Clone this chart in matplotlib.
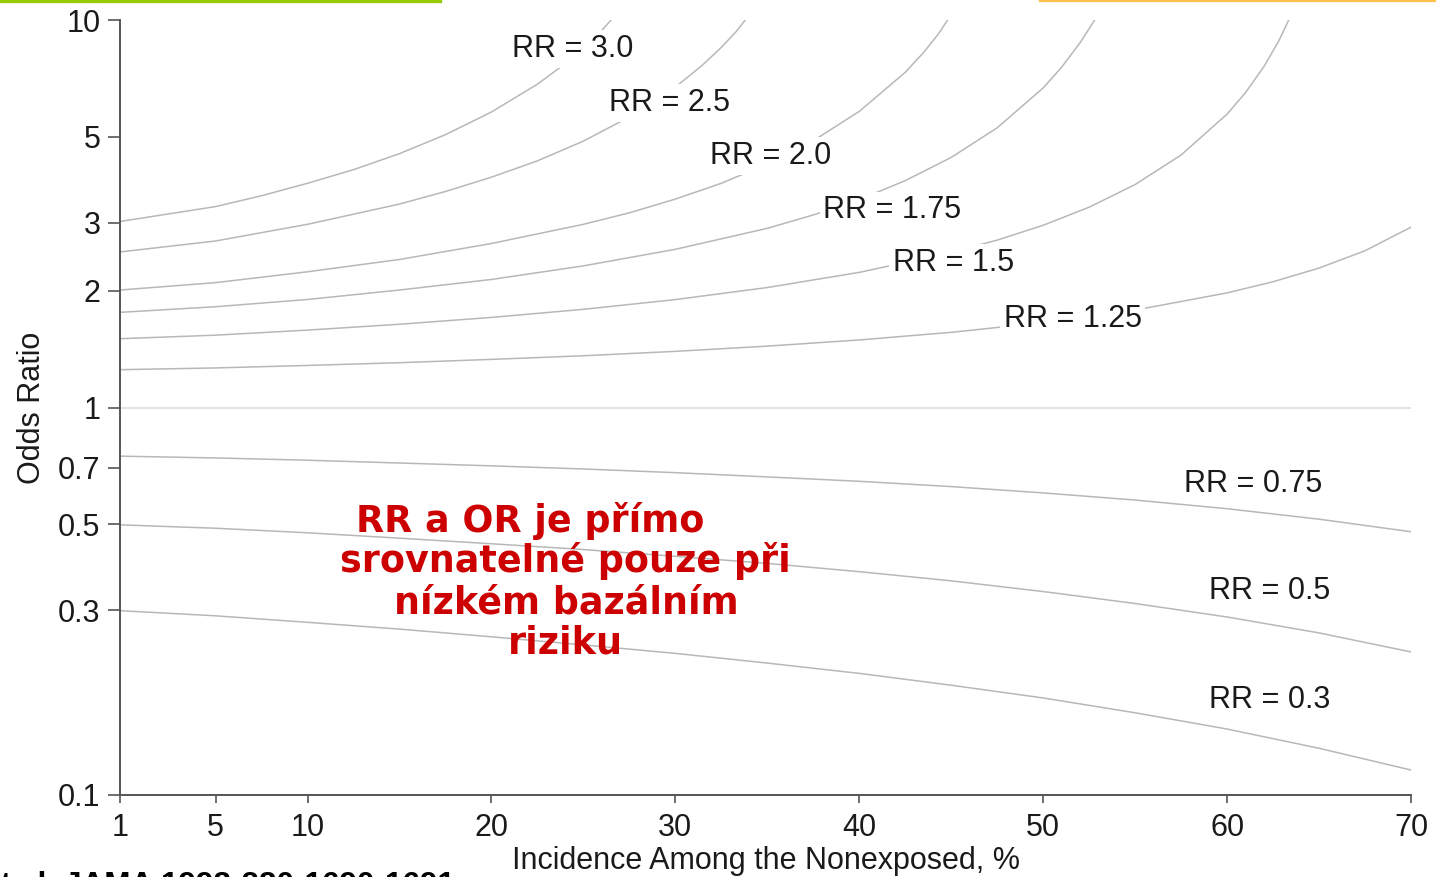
import numpy as np
import matplotlib.pyplot as plt
from matplotlib.lines import Line2D

plt.rcParams['font.family'] = ['Liberation Sans', 'DejaVu Sans']
plt.rcParams['font.size'] = 22

# odds ratio read along each RR curve vs. incidence among the nonexposed (%)
inc_grid = [1, 5, 10, 15, 20, 25, 30, 35, 40, 45, 50, 55, 60, 65, 70]

inc_rr30 = [1, 5, 7.5, 10, 12.5, 15, 17.5, 20, 22.5, 24, 25, 26, 26.5]
or_rr30 = [3.02, 3.30, 3.52, 3.79, 4.11, 4.52, 5.06, 5.79, 6.83, 7.71, 8.46, 9.40, 10.0]

inc_rr25 = [1, 5, 10, 15, 17.5, 20, 22.5, 25, 27.5, 30, 31.5, 32.5, 33.3, 33.8]
or_rr25 = [2.52, 2.69, 2.97, 3.35, 3.61, 3.93, 4.33, 4.87, 5.62, 6.71, 7.67, 8.5, 9.33, 10.0]

inc_rr20 = [1, 5, 10, 15, 20, 25, 27.5, 30, 32.5, 35, 37.5, 40, 42.5, 43.5, 44.3, 44.8]
or_rr20 = [2.01, 2.10, 2.24, 2.41, 2.65, 2.97, 3.18, 3.45, 3.79, 4.25, 4.88, 5.81, 7.33, 8.25, 9.20, 10.0]

inc_rr175 = [1, 5, 10, 15, 20, 25, 30, 35, 37.5, 40, 42.5, 45, 47.5, 50, 51, 52, 52.8]
or_rr175 = [1.76, 1.82, 1.90, 2.01, 2.14, 2.32, 2.56, 2.90, 3.14, 3.44, 3.85, 4.42, 5.27, 6.68, 7.55, 8.73, 10.0]

inc_rr15 = [1, 5, 10, 15, 20, 25, 30, 35, 40, 45, 47.5, 50, 52.5, 55, 57.5, 60, 61, 62, 62.8, 63.35]
or_rr15 = [1.505, 1.537, 1.584, 1.640, 1.708, 1.792, 1.899, 2.040, 2.232, 2.511, 2.704, 2.953, 3.288, 3.762, 4.484, 5.717, 6.495, 7.579, 8.81, 10.0]

inc_rr125 = [1, 5, 10, 15, 20, 25, 30, 35, 40, 45, 50, 55, 60, 62.5, 65, 67.5, 70]
or_rr125 = [1.252, 1.265, 1.284, 1.305, 1.331, 1.360, 1.396, 1.440, 1.494, 1.563, 1.656, 1.784, 1.976, 2.111, 2.290, 2.538, 2.92]

inc_rr10 = [1, 70]
or_rr10 = [1.0, 1.0]

or_rr075 = [0.749, 0.741, 0.731, 0.719, 0.707, 0.694, 0.679, 0.662, 0.645, 0.625, 0.602, 0.577, 0.548, 0.515, 0.478]
or_rr05 = [0.498, 0.488, 0.475, 0.460, 0.445, 0.430, 0.413, 0.396, 0.377, 0.357, 0.335, 0.312, 0.288, 0.262, 0.234]
or_rr03 = [0.299, 0.290, 0.279, 0.268, 0.256, 0.244, 0.232, 0.219, 0.206, 0.192, 0.178, 0.163, 0.148, 0.132, 0.116]

curve_labels = ["RR = 3.0", "RR = 2.5", "RR = 2.0", "RR = 1.75", "RR = 1.5",
                "RR = 1.25", "RR = 0.75", "RR = 0.5", "RR = 0.3"]
label_x = [24.4, 29.7, 35.2, 41.8, 45.1, 51.6, 61.4, 62.3, 62.3]
label_y = [8.42, 6.11, 4.46, 3.23, 2.36, 1.69, 0.633, 0.336, 0.176]

x_ticks = [1, 5, 10, 20, 30, 40, 50, 60, 70]
y_ticks = [0.1, 0.3, 0.5, 0.7, 1, 2, 3, 5, 10]
y_ticklabels = ["0.1", "0.3", "0.5", "0.7", "1", "2", "3", "5", "10"]

note_lines = ["RR a OR je přímo", "srovnatelné pouze při", "nízkém bazálním", "riziku"]
note_pos = [(0.318, 0.3394), (0.3447, 0.2877), (0.3455, 0.2348), (0.3451, 0.1832)]


# the first axis step (1 -> 5) is squeezed, the rest is linear
def fwd(x):
    x = np.asarray(x, dtype=float)
    return np.where(x < 5, (x - 1) * 1.3 - 0.2, x)


def inv(y):
    y = np.asarray(y, dtype=float)
    return np.where(y < 5, (y + 0.2) / 1.3 + 1, y)


W, H = 1436, 877
fig = plt.figure(figsize=(W / 100, H / 100), dpi=100)
ax = fig.add_axes([120 / W, 1 - 795 / H, 1291 / W, 775 / H])

curve_col = '#b8b8b8'
curves = [(inc_rr30, or_rr30), (inc_rr25, or_rr25), (inc_rr20, or_rr20),
          (inc_rr175, or_rr175), (inc_rr15, or_rr15), (inc_rr125, or_rr125),
          (inc_grid, or_rr075), (inc_grid, or_rr05), (inc_grid, or_rr03)]
for xs, ys in curves:
    ax.plot(xs, ys, color=curve_col, lw=1.1, zorder=2)
ax.plot(inc_rr10, or_rr10, color='#dadada', lw=1.1, zorder=2)

# curve labels sit on a white patch that breaks the line underneath
for txt, lx, ly in zip(curve_labels, label_x, label_y):
    ax.text(lx, ly, txt, ha='center', va='center', color='#1a1a1a', fontsize=22,
            zorder=4, bbox=dict(boxstyle='square,pad=0.12', fc='white', ec='none'))

ax.set_xscale('function', functions=(fwd, inv))
ax.set_yscale('log')
ax.set_xlim(1, 70)
ax.set_ylim(0.1, 10)
ax.set_xticks(x_ticks)
ax.set_xticklabels([str(t) for t in x_ticks])
ax.set_yticks(y_ticks)
ax.set_yticklabels(y_ticklabels)
ax.minorticks_off()

for side in ['top', 'right']:
    ax.spines[side].set_visible(False)
for side in ['left', 'bottom']:
    ax.spines[side].set_color('#555555')
    ax.spines[side].set_linewidth(1.4)
ax.tick_params(axis='y', direction='out', length=9, width=1.2, color='#555555',
               pad=5, labelcolor='#1a1a1a', labelsize=22)
ax.tick_params(axis='x', direction='out', length=6, width=1.2, color='#555555',
               pad=7, labelcolor='#1a1a1a', labelsize=22)

ax.set_xlabel("Incidence Among the Nonexposed, %", fontsize=22, color='#1a1a1a', labelpad=2)
ax.set_ylabel("Odds Ratio", fontsize=22, color='#1a1a1a', labelpad=8)

for line, (nx, ny) in zip(note_lines, note_pos):
    ax.text(nx, ny, line, transform=ax.transAxes, ha='center', va='baseline',
            color='#cc0000', fontsize=26.3, fontweight='bold', family='DejaVu Sans', zorder=5)

# citation, partly cut off by the bottom edge
fig.text(455 / W, (H - 894) / H, "Zhang et al. JAMA 1998;280:1690-1691",
         ha='right', va='baseline', fontsize=22.7, fontweight='bold', color='black')

# coloured rules along the top edge
fig.add_artist(Line2D([0, 440 / W], [1 - 1 / H, 1 - 1 / H], color='#99cc00', lw=2.4))
fig.add_artist(Line2D([1040 / W, 1], [1 - 0.6 / H, 1 - 0.6 / H], color='#ffc04c', lw=1.6))

fig.savefig('out.png', dpi=100, facecolor='white')
